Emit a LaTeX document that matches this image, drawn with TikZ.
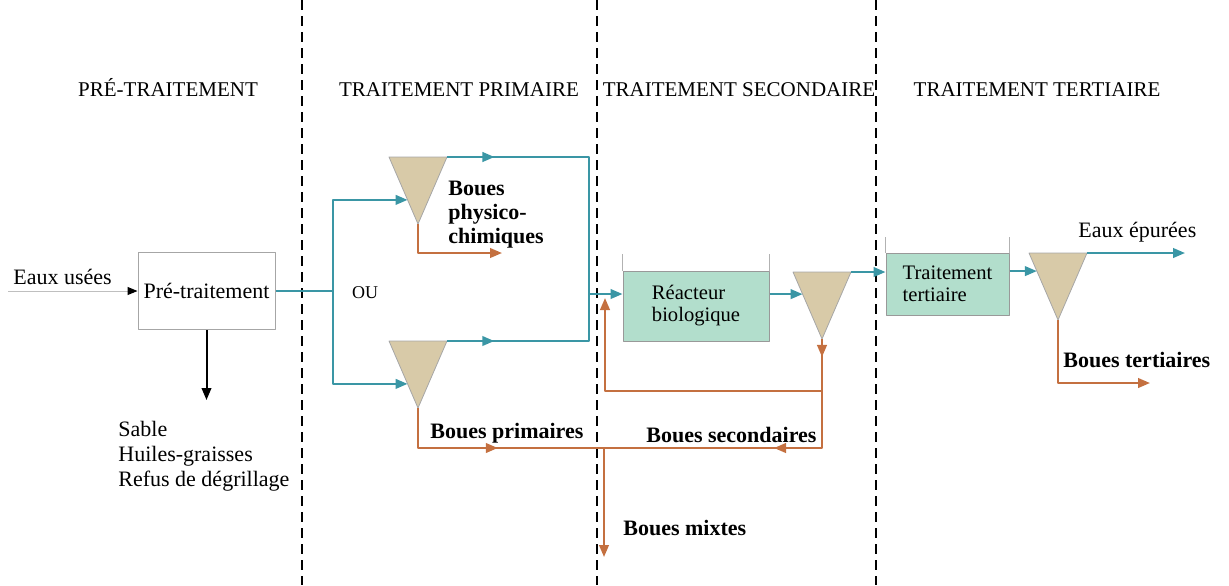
\documentclass[tikz,border=0pt]{standalone}
\usepackage{fontspec}
\setmainfont{Liberation Serif}
\usetikzlibrary{arrows.meta,decorations.markings,calc}
\definecolor{eau}{RGB}{58,150,165}
\definecolor{boue}{RGB}{196,112,64}
\definecolor{sable}{RGB}{216,202,168}
\definecolor{bassin}{RGB}{178,222,204}
\newcommand{\decanteur}[3]{%
  \coordinate (#1-l) at (#2-29,#3);
  \coordinate (#1-r) at (#2+29,#3);
  \coordinate (#1-a) at (#2,#3+67);
  \filldraw[fill=sable,draw=gray!70,line width=0.4pt] (#1-l) -- (#1-r) -- (#1-a) -- cycle;}
\begin{document}
\begin{tikzpicture}[x=0.5pt,y=-0.5pt,line join=round,>={Triangle[length=6pt,width=4.8pt]},
  flux/.style={color=eau,line width=1.1pt},
  boues/.style={color=boue,line width=1.1pt},
  fl/.style={postaction={decorate,decoration={markings,mark=at position #1 with {\arrow{>}}}}},
  txt/.style={font=\fontsize{11}{12.5}\selectfont,inner sep=0pt},
  gras/.style={font=\fontsize{11}{12}\selectfont\bfseries,inner sep=0pt},
  titre/.style={font=\fontsize{10.5}{12}\selectfont,inner sep=0pt,anchor=base},
  cuve/.style={draw=gray!80,fill=bassin,line width=0.5pt,inner sep=0pt,align=left,font=\fontsize{10.3}{11}\selectfont},
  mur/.style={draw=gray!60,line width=0.5pt}]
\useasboundingbox (0,0) rectangle (1229,585);
\foreach \x in {302,597,876}{\draw[line width=1pt,dash pattern=on 5pt off 3pt] (\x,0) -- (\x,585);}
\foreach \x/\t in {168/PRÉ-TRAITEMENT,459/TRAITEMENT PRIMAIRE,739/TRAITEMENT SECONDAIRE,1037/TRAITEMENT TERTIAIRE}{\node[titre] at (\x,96) {\t};}
\node[txt,draw=gray!70,line width=0.5pt,minimum width=68.5pt,minimum height=38.5pt] (pre) at (206.5,291) {Pré-traitement};
\node[txt,anchor=base west] (eu) at (13,284) {Eaux usées};
\coordinate (in) at (8,291);
\draw[gray!50,line width=0.5pt,-{Triangle[length=5pt,width=4pt,color=black]}] (in) -- (pre.west);
\coordinate (sp) at (206.5,400);
\draw[line width=1pt,->] (pre.south) -- (sp);
\node[txt,align=left,anchor=north west] (dech) at (118,421) {Sable\\Huiles-graisses\\Refus de dégrillage};
\coordinate (ou) at (333,291);
\node[font=\fontsize{9}{10}\selectfont,inner sep=0pt] (oulbl) at (365,293) {OU};
\decanteur{d1}{418}{157}
\decanteur{d2}{418}{341}
\path ($(d1-l)!0.64!(d1-a)$) coordinate (e1) ($(d2-l)!0.64!(d2-a)$) coordinate (e2);
\draw[flux] (pre.east) -- (ou);
\draw[flux,->] (ou) |- (e1);
\draw[flux,->] (ou) |- (e2);
\coordinate (j) at (589,294);
\draw[flux,fl=0.17] (d1-r) -| (j);
\draw[flux,fl=0.25] (d2-r) -| (j);
\node[cuve,minimum width=73pt,minimum height=35pt] (rea) at (696,306) {Réacteur\\biologique};
\draw[mur] (rea.north west) -- ++(0,-17) (rea.north east) -- ++(0,-17);
\draw[flux,->] (j) -- (j -| rea.west);
\decanteur{d3}{822}{272}
\path ($(d3-l)!0.33!(d3-a)$) coordinate (e3);
\draw[flux,->] (rea.east |- e3) -- (e3);
\node[cuve,minimum width=61.5pt,minimum height=31pt] (ter) at (947.5,284) {Traitement\\tertiaire};
\draw[mur] (ter.north west) -- ++(0,-16) (ter.north east) -- ++(0,-16);
\draw[flux,->] (d3-r) -- (d3-r -| ter.west);
\decanteur{d4}{1058}{253}
\path ($(d4-l)!0.27!(d4-a)$) coordinate (e4);
\draw[flux,->] (ter.east |- e4) -- (e4);
\coordinate (sortie) at (1185,253);
\draw[flux,->] (d4-r) -- (sortie);
\node[txt,anchor=base west] (ep) at (1078,237) {Eaux épurées};
\coordinate (bt) at (1150,383);
\draw[boues,->] (d4-a) |- (bt);
\node[gras,anchor=base west] (lbt) at (1063,367) {Boues tertiaires};
\coordinate (bp) at (502,253);
\draw[boues,->] (d1-a) |- (bp);
\node[gras,anchor=north west,align=left] (lpc) at (448,181) {Boues\\physico-\\chimiques};
\coordinate (mix) at (604,448);
\draw[boues,fl=0.53] (d2-a) |- (mix);
\draw[boues,fl=0.055,fl=0.48] (d3-a) |- (mix);
\coordinate (r0) at (d3-a |- 0,391);
\coordinate (rec) at (605,298);
\draw[boues,->] (r0) -| (rec);
\coordinate (bm) at (604,557);
\draw[boues,->] (mix) -- (bm);
\node[gras,anchor=base west] (lbp) at (430,438) {Boues primaires};
\node[gras,anchor=base west] (lbs) at (646,442) {Boues secondaires};
\node[gras,anchor=base west] (lbm) at (623,535) {Boues mixtes};
\end{tikzpicture}
\end{document}
